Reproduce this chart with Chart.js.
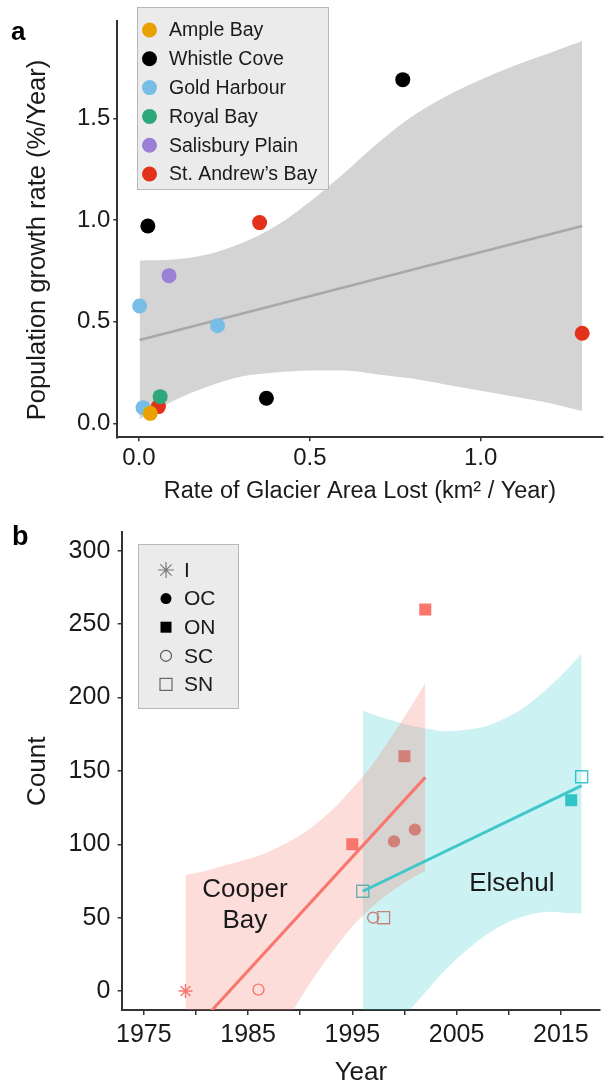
<!DOCTYPE html>
<html>
<head>
<meta charset="utf-8">
<script src="https://cdn.jsdelivr.net/npm/chart.js@4.4.1/dist/chart.umd.min.js"></script>
<style>
body { margin: 0; background: #fff; width: 610px; height: 1085px; position: relative; overflow: hidden; }
.panel { position: absolute; left: 0; width: 610px; }
#wrapA { top: 0; height: 510px; }
#wrapB { top: 510px; height: 575px; }
</style>
</head>
<body>
<div class="panel" id="wrapA"><canvas id="chartA" width="610" height="510"></canvas></div>
<div class="panel" id="wrapB"><canvas id="chartB" width="610" height="575"></canvas></div>
<script>
const FONT = "'Liberation Sans', Arial, Helvetica, sans-serif"
const INK = '#1a1a1a'

// ---- panel a: growth rate vs glacier loss ----
const siteNames = ['Ample Bay', 'Whistle Cove', 'Gold Harbour', 'Royal Bay', 'Salisbury Plain', 'St. Andrew’s Bay']
const siteColors = ['#e9a100', '#000000', '#78bde6', '#2ca87a', '#9b80d6', '#e2321a']
const ampleLoss = [0.033]
const ampleGrowth = [0.049]
const whistleLoss = [0.026, 0.373, 0.772]
const whistleGrowth = [0.97, 0.123, 1.69]
const goldLoss = [0.002, 0.012, 0.23]
const goldGrowth = [0.577, 0.077, 0.48]
const royalLoss = [0.062]
const royalGrowth = [0.131]
const salisburyLoss = [0.088]
const salisburyGrowth = [0.726]
const andrewsLoss = [0.057, 0.353, 1.297]
const andrewsGrowth = [0.082, 0.987, 0.443]

const fitLoss = [0.002, 1.297]
const fitGrowth = [0.41, 0.97]
const bandLoss = [0.002, 0.1, 0.2, 0.3, 0.4, 0.5, 0.6, 0.7, 0.8, 0.9, 1.0, 1.1, 1.2, 1.297]
const bandUpper = [0.80, 0.805, 0.83, 0.885, 0.97, 1.09, 1.23, 1.38, 1.51, 1.61, 1.69, 1.76, 1.82, 1.88]
const bandLower = [0.02, 0.11, 0.18, 0.23, 0.25, 0.26, 0.26, 0.24, 0.22, 0.19, 0.16, 0.13, 0.10, 0.06]

const aTicksX = [0, 0.5, 1.0]
const aTicksY = [0, 0.5, 1.0, 1.5]

// ---- panel b: counts per year ----
const markerTypes = ['I', 'OC', 'ON', 'SC', 'SN']
const cooperYear = [1979, 1986, 1995, 1997, 1998, 1999, 2000, 2001, 2002]
const cooperCount = [0, 1, 100, 50, 50, 102, 160, 110, 260]
const cooperType = ['I', 'SC', 'ON', 'SC', 'SN', 'OC', 'ON', 'OC', 'ON']
const elsehulYear = [1996, 2016, 2017]
const elsehulCount = [68, 130, 146]
const elsehulType = ['SN', 'ON', 'SN']

const cooperFitYear = [1979, 2002]
const cooperFit = [-32.7, 145.6]
const elsehulFitYear = [1996, 2017]
const elsehulFit = [68, 140]

const cooperBandYear = [1979, 1981, 1983, 1985, 1987, 1989, 1991, 1993, 1995, 1997, 1999, 2001, 2002]
const cooperUpper = [79, 82, 86, 90, 95, 102, 111, 123, 138, 155, 176, 198, 210]
const cooperLower = [-144, -118, -91, -66, -41, -17, 6, 26, 44, 58, 69, 78, 82]
const elsehulBandYear = [1996, 1998, 2000, 2002, 2004, 2006, 2008, 2010, 2012, 2014, 2016, 2017]
const elsehulUpper = [191, 186, 182, 179, 177, 178, 181, 187, 196, 208, 222, 230]
const elsehulLower = [-54, -35, -17, -1, 15, 28, 39, 47, 52, 54, 53, 53]

const bTicksX = [1975, 1980, 1985, 1990, 1995, 2000, 2005, 2010, 2015]
const bTicksY = [0, 50, 100, 150, 200, 250, 300]

const pts = (xs, ys) => xs.map((x, i) => ({ x: x, y: ys[i] }))

const axisLook = (tickLen) => ({
    grid: { display: true, drawOnChartArea: false, drawTicks: true, tickLength: tickLen, color: '#333', lineWidth: 1.5 },
    border: { display: true, color: '#333', width: 2 },
})

const fixTicks = (values) => (axis) => { axis.ticks = values.map(v => ({ value: v })) }

// ---------- chart a ----------
const siteLoss = [ampleLoss, whistleLoss, goldLoss, royalLoss, salisburyLoss, andrewsLoss]
const siteGrowth = [ampleGrowth, whistleGrowth, goldGrowth, royalGrowth, salisburyGrowth, andrewsGrowth]
const siteLayer = [0, 4, 3, 1, 5, 2]

let siteSets = siteNames.map((name, i) => ({
    label: name,
    data: pts(siteLoss[i], siteGrowth[i]),
    pointRadius: 7.5,
    pointBorderWidth: 0,
    pointBackgroundColor: siteColors[i],
    pointBorderColor: siteColors[i],
    order: siteLayer[i],
}))

const legendA = {
    id: 'legendA',
    afterDraw(chart) {
        const ctx = chart.ctx
        ctx.save()
        ctx.fillStyle = '#ebebeb'
        ctx.strokeStyle = '#b8b8b8'
        ctx.lineWidth = 1
        ctx.fillRect(137, 7, 191, 182)
        ctx.strokeRect(137.5, 7.5, 191, 182)
        ctx.font = '19.5px ' + FONT
        ctx.textBaseline = 'middle'
        siteNames.forEach((name, i) => {
            let y = 30 + i * 28.8
            ctx.beginPath()
            ctx.fillStyle = siteColors[i]
            ctx.arc(149.5, y, 7.5, 0, Math.PI * 2)
            ctx.fill()
            ctx.fillStyle = INK
            ctx.fillText(name, 169, y + 1)
        })
        ctx.font = 'bold 26px ' + FONT
        ctx.textBaseline = 'alphabetic'
        ctx.fillStyle = '#000'
        ctx.fillText('a', 11, 40)

        // y axis title, placed to match the figure
        ctx.translate(38, 240)
        ctx.rotate(-Math.PI / 2)
        ctx.font = '25.5px ' + FONT
        ctx.fillStyle = INK
        ctx.textAlign = 'center'
        ctx.textBaseline = 'middle'
        ctx.fillText('Population growth rate (%/Year)', 0, 0)
        ctx.restore()
    }
}

new Chart(document.getElementById('chartA'), {
    type: 'scatter',
    data: {
        datasets: [
            ...siteSets,
            {
                type: 'line', data: pts(fitLoss, fitGrowth), borderColor: '#a8a8a8', borderWidth: 2.5,
                pointRadius: 0, fill: false, order: 8,
            },
            {
                type: 'line', data: pts(bandLoss, bandUpper), borderWidth: 0, pointRadius: 0,
                backgroundColor: '#d4d4d4', fill: '+1', cubicInterpolationMode: 'monotone', order: 9,
            },
            {
                type: 'line', data: pts(bandLoss, bandLower), borderWidth: 0, pointRadius: 0,
                fill: false, cubicInterpolationMode: 'monotone', order: 9,
            },
        ]
    },
    options: {
        responsive: false,
        animation: false,
        layout: { padding: { left: 0, right: 0, top: 20.7, bottom: 0 } },
        plugins: { legend: { display: false }, tooltip: { enabled: false } },
        scales: {
            x: {
                type: 'linear', min: -0.0634, max: 1.3565,
                ...axisLook(4),
                afterFit: (axis) => { axis.height = 72.7 },
                afterBuildTicks: fixTicks(aTicksX),
                ticks: { callback: v => v.toFixed(1), font: { family: FONT, size: 24 }, color: INK, padding: 3, maxRotation: 0, autoSkip: false },
                title: { display: true, text: 'Rate of Glacier Area Lost (km² / Year)', font: { family: FONT, size: 23.5 }, color: INK, padding: { top: 0, bottom: 4 } },
            },
            y: {
                type: 'linear', min: -0.0689, max: 1.98,
                ...axisLook(4),
                afterFit: (axis) => { axis.width = 117.3 },
                afterBuildTicks: fixTicks(aTicksY),
                ticks: { callback: v => v.toFixed(1), font: { family: FONT, size: 24 }, color: INK, padding: 3, autoSkip: false },
            },
        }
    },
    plugins: [legendA]
})

// ---------- chart b ----------
const cooperColor = '#f8766d'
const elsehulColor = '#3fc7ca'
const markerStyle = {
    I: { pointStyle: 'star', radius: 7, filled: false },
    OC: { pointStyle: 'circle', radius: 5.5, filled: true },
    ON: { pointStyle: 'rect', radius: 7.5, filled: true },
    SC: { pointStyle: 'circle', radius: 5.5, filled: false },
    SN: { pointStyle: 'rect', radius: 8.5, filled: false },
}

const markerSet = (years, counts, types, color) => ({
    data: pts(years, counts),
    pointStyle: types.map(t => markerStyle[t].pointStyle),
    pointRadius: types.map(t => markerStyle[t].radius),
    pointBackgroundColor: types.map(t => markerStyle[t].filled ? color : 'rgba(0,0,0,0)'),
    pointBorderColor: color,
    pointBorderWidth: 1.4,
    order: 10,
})

const drawMarker = (ctx, type, x, y, color) => {
    ctx.save()
    ctx.strokeStyle = color
    ctx.fillStyle = color
    ctx.lineWidth = 1.2
    ctx.beginPath()
    if (type === 'I') {
        for (let k = 0; k < 4; k++) {
            let a = k * Math.PI / 4
            ctx.moveTo(x - 8 * Math.cos(a), y - 8 * Math.sin(a))
            ctx.lineTo(x + 8 * Math.cos(a), y + 8 * Math.sin(a))
        }
        ctx.stroke()
    } else if (type === 'OC') {
        ctx.arc(x, y, 5.5, 0, Math.PI * 2)
        ctx.fill()
    } else if (type === 'ON') {
        ctx.fillRect(x - 5.5, y - 5.5, 11, 11)
    } else if (type === 'SC') {
        ctx.arc(x, y, 5.5, 0, Math.PI * 2)
        ctx.stroke()
    } else {
        ctx.strokeRect(x - 6, y - 6, 12, 12)
    }
    ctx.restore()
}

const legendB = {
    id: 'legendB',
    afterDraw(chart) {
        const ctx = chart.ctx
        const xs = chart.scales.x
        const ys = chart.scales.y
        ctx.save()
        ctx.fillStyle = '#ebebeb'
        ctx.strokeStyle = '#b8b8b8'
        ctx.lineWidth = 1
        ctx.fillRect(138, 34, 100, 164)
        ctx.strokeRect(138.5, 34.5, 100, 164)
        const symColors = { I: '#7a7a7a', OC: '#000', ON: '#000', SC: '#555', SN: '#666' }
        ctx.font = '21px ' + FONT
        ctx.textBaseline = 'middle'
        markerTypes.forEach((t, i) => {
            let y = 60 + i * 28.6
            drawMarker(ctx, t, 166, y, symColors[t])
            ctx.fillStyle = INK
            ctx.fillText(t, 184, y + 1)
        })
        // site annotations
        ctx.font = '26px ' + FONT
        ctx.textAlign = 'center'
        ctx.textBaseline = 'alphabetic'
        ctx.fillStyle = INK
        ctx.fillText('Cooper', xs.getPixelForValue(1984.7), ys.getPixelForValue(64))
        ctx.fillText('Bay', xs.getPixelForValue(1984.7), ys.getPixelForValue(43))
        ctx.fillText('Elsehul', xs.getPixelForValue(2010.3), ys.getPixelForValue(68))
        ctx.textAlign = 'left'
        ctx.font = 'bold 27px ' + FONT
        ctx.fillStyle = '#000'
        ctx.fillText('b', 12, 35)
        ctx.restore()
    }
}

new Chart(document.getElementById('chartB'), {
    type: 'scatter',
    data: {
        datasets: [
            markerSet(cooperYear, cooperCount, cooperType, cooperColor),
            markerSet(elsehulYear, elsehulCount, elsehulType, elsehulColor),
            {
                type: 'line', data: pts(elsehulBandYear, elsehulUpper), borderWidth: 0, pointRadius: 0,
                backgroundColor: 'rgba(0,191,196,0.2)', fill: '+1', cubicInterpolationMode: 'monotone', order: 8,
            },
            {
                type: 'line', data: pts(elsehulBandYear, elsehulLower), borderWidth: 0, pointRadius: 0,
                fill: false, cubicInterpolationMode: 'monotone', order: 8,
            },
            {
                type: 'line', data: pts(cooperBandYear, cooperUpper), borderWidth: 0, pointRadius: 0,
                backgroundColor: 'rgba(248,118,109,0.25)', fill: '+1', cubicInterpolationMode: 'monotone', order: 6,
            },
            {
                type: 'line', data: pts(cooperBandYear, cooperLower), borderWidth: 0, pointRadius: 0,
                fill: false, cubicInterpolationMode: 'monotone', order: 6,
            },
            {
                type: 'line', data: pts(cooperFitYear, cooperFit), borderColor: cooperColor, borderWidth: 3,
                pointRadius: 0, fill: false, order: 2,
            },
            {
                type: 'line', data: pts(elsehulFitYear, elsehulFit), borderColor: elsehulColor, borderWidth: 3,
                pointRadius: 0, fill: false, order: 1,
            },
        ]
    },
    options: {
        responsive: false,
        animation: false,
        layout: { padding: { left: 0, right: 0, top: 12, bottom: 0 } },
        plugins: { legend: { display: false }, tooltip: { enabled: false } },
        scales: {
            x: {
                type: 'linear', min: 1972.88, max: 2018.77,
                ...axisLook(5),
                afterFit: (axis) => { axis.height = 75 },
                afterBuildTicks: fixTicks(bTicksX),
                ticks: { callback: v => ((v - 1975) % 10 === 0 ? String(v) : ''), font: { family: FONT, size: 25 }, color: INK, padding: 5.5, maxRotation: 0, autoSkip: false },
                title: { display: true, text: 'Year', font: { family: FONT, size: 26, lineHeight: 0.9 }, color: INK, padding: { top: 0, bottom: 0 } },
            },
            y: {
                type: 'linear', min: -12.9, max: 312.5,
                ...axisLook(4),
                afterFit: (axis) => { axis.width = 121.7 },
                afterBuildTicks: fixTicks(bTicksY),
                ticks: { font: { family: FONT, size: 25 }, color: INK, padding: 7.4, autoSkip: false },
                title: { display: true, text: 'Count', font: { family: FONT, size: 26 }, color: INK, padding: { top: 22.4, bottom: 0 } },
            },
        }
    },
    plugins: [legendB]
})
</script>
</body>
</html>
